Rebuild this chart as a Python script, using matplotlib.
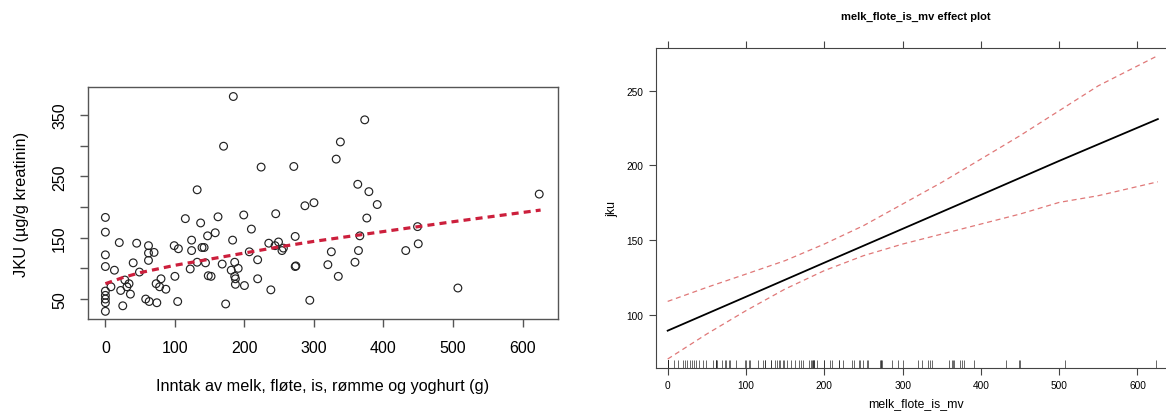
import matplotlib.pyplot as plt

plt.rcParams["font.family"] = ["Liberation Sans", "DejaVu Sans"]

# punktdata lest av figuren (inntak g, JKU ug/g kreatinin)
inntak = [0, 0, 0, 0, 0, 0, 0, 0, 0,
          8, 13, 20, 22, 25, 28, 31, 34, 36, 40, 45, 49, 58, 62, 62, 62, 63,
          70, 73, 74, 78, 80, 87, 99, 100, 104, 105, 115, 122, 124, 124, 132,
          132, 137, 139, 142, 144, 147, 148, 152, 158, 162, 168, 170, 173, 183,
          184, 181, 186, 191, 186, 187, 187, 200, 199, 207, 210, 219, 219, 224,
          238, 235, 245, 244, 249, 254, 256, 273, 273, 274, 271, 287, 300, 294,
          332, 338, 373, 363, 379, 391, 376, 366, 364, 359, 325, 320, 335, 432,
          449, 450, 507, 624]
jku = [183, 159, 122, 103, 63, 56, 50, 44, 30,
       70, 97, 142, 64, 39, 81, 70, 75, 58, 109, 141, 94, 50, 137, 125, 113, 46,
       126, 75, 44, 70, 83, 66, 137, 87, 46, 132, 181, 99, 146, 129, 228,
       110, 174, 134, 134, 109, 153, 88, 87, 158, 184, 107, 299, 42, 146,
       380, 97, 110, 100, 87, 83, 74, 72, 187, 127, 164, 114, 83, 265,
       65, 141, 189, 137, 143, 129, 133, 152, 103, 104, 266, 202, 207, 48,
       278, 306, 342, 237, 225, 204, 182, 153, 129, 110, 127, 106, 87, 129,
       168, 140, 68, 221]

# tilpasset kurve (venstre panel)
kurve_x = [0, 25, 50, 100, 150, 200, 250, 300, 400, 500, 626]
kurve_y = [75, 85, 93, 105, 115, 125, 135, 144, 160, 176, 195]

# effektplott (hoyre panel)
eff_x = [0, 100, 200, 300, 400, 500, 626]
eff_fit = [89.3, 112.0, 134.8, 157.5, 180.2, 203.0, 231.0]
ki_x = [0, 50, 100, 150, 200, 250, 300, 350, 400, 450, 500, 550, 626]
ki_upper = [108.9, 118.3, 127.2, 136.2, 147.3, 159.6, 174.1, 188.6, 204.2,
            219.9, 236.6, 253.3, 273.5]
ki_lower = [70.3, 87.1, 102.7, 117.2, 129.5, 139.5, 147.3, 154.0, 160.7,
            167.4, 175.2, 179.7, 189.0]

W, H = 1166, 414
fig = plt.figure(figsize=(W / 100, H / 100), dpi=100)

# ---- venstre panel ----
ax1 = fig.add_axes([88 / W, 1 - 320 / H, 470 / W, 232 / H])
ax1.scatter(inntak, jku, s=31, facecolors="none", edgecolors="#222222",
            linewidths=0.85, zorder=2)
ax1.plot(kurve_x, kurve_y, color="#cc1f3c", lw=2.3, dashes=(2.2, 1.6), zorder=3)
ax1.set_xlim(-25, 651)
ax1.set_ylim(17.5, 395.5)
ax1.set_xticks(range(0, 601, 100))
ax1.set_yticks(range(50, 351, 50))
ax1.set_yticklabels(["50", "", "150", "", "250", "", "350"], rotation=90,
                    va="center")
for s in ax1.spines.values():
    s.set_color("#555555")
    s.set_linewidth(1.0)
ax1.tick_params(direction="out", length=6, width=1, color="#555555",
                labelsize=11.5, pad=9)
ax1.set_xlabel("Inntak av melk, fløte, is, rømme og yoghurt (g)",
               fontsize=11.7, labelpad=17)
ax1.set_ylabel("JKU (µg/g kreatinin)", fontsize=11.8, labelpad=17)

# ---- hoyre panel ----
ax2 = fig.add_axes([655.7 / W, 1 - 369 / H, 520 / W, 320 / H])
ax2.plot(eff_x, eff_fit, color="black", lw=1.3)
ax2.plot(ki_x, ki_upper, color="#e07878", lw=0.9, dashes=(4, 3))
ax2.plot(ki_x, ki_lower, color="#e07878", lw=0.9, dashes=(4, 3))
ax2.vlines(inntak, 0, 0.026, transform=ax2.get_xaxis_transform(),
           color="#222222", lw=0.6, alpha=0.8)
ax2.set_xlim(-15.3, 648.8)
ax2.set_ylim(64.3, 278.6)
ax2.set_xticks(range(0, 601, 100))
ax2.set_yticks(range(100, 251, 50))
for s in ax2.spines.values():
    s.set_color("#444444")
    s.set_linewidth(0.8)
ax2.spines["right"].set_visible(False)
ax2.tick_params(direction="out", length=5, width=0.8, color="#444444",
                labelsize=7.3, pad=4, top=True)
ax2.set_xlabel("melk_flote_is_mv", fontsize=8.8, labelpad=5)
ax2.set_ylabel("jku", fontsize=8.8, labelpad=6)
ax2.set_title("melk_flote_is_mv effect plot", fontsize=8, fontweight="bold",
              pad=21)

fig.savefig("out.png", dpi=100)
